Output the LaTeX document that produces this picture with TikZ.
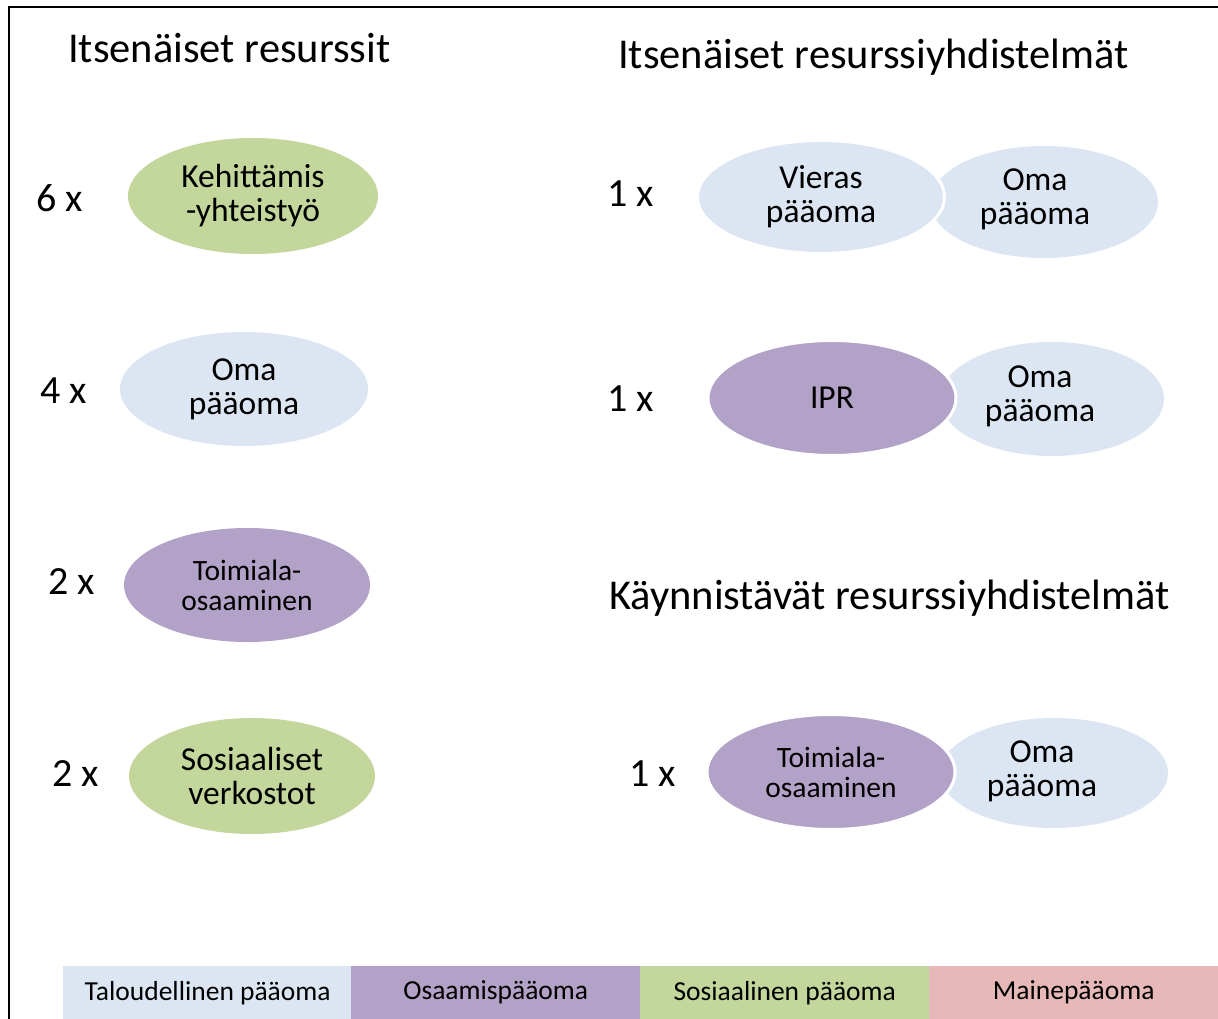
\documentclass[tikz,border=0pt]{standalone}
\usepackage{fontspec}
\setmainfont{Carlito}
\usetikzlibrary{shapes.geometric}

\definecolor{capblue}{HTML}{DCE6F2}
\definecolor{cappurple}{HTML}{B3A2C7}
\definecolor{capgreen}{HTML}{C3D69B}
\definecolor{cappink}{HTML}{E6B9B8}

\tikzset{
  res/.style={ellipse, inner sep=0pt, align=center,
    font=\fontsize{33.5}{34}\selectfont},
  front/.style={res, draw=white, line width=3pt},
  restext/.style={inner sep=0pt, align=center, font=\fontsize{33.5}{34}\selectfont},
  small/.style={font=\fontsize{29.5}{30}\selectfont},
  count/.style={font=\fontsize{40}{40}\selectfont, anchor=base west, inner sep=0pt},
  heading/.style={font=\fontsize{42.5}{42}\selectfont, anchor=base west, inner sep=0pt},
  legbox/.style={inner sep=0pt, anchor=north west, minimum height=53pt,
    minimum width=289pt, font=\fontsize{27.5}{28}\selectfont},
}

\begin{document}
\begin{tikzpicture}[x=1pt, y=-1pt]
\useasboundingbox (0,0) rectangle (1218,1019);

% frame
\draw[line width=2pt] (9,1019) -- (9,7) -- (1218,7);

% headings
\node[heading] (h1) at (68,63) {Itsenäiset resurssit};
\node[heading] (h2) at (618,69) {Itsenäiset resurssiyhdistelmät};
\node[heading] (h3) at (609,609) {Käynnistävät resurssiyhdistelmät};

% independent resources
\node[count] (c1) at (36,212) {6 x};
\node[res, fill=capgreen, minimum width=250pt, minimum height=116pt] (l1) at (253,196) {Kehittämis\\-yhteistyö};

\node[count] (c2) at (40,403) {4 x};
\node[res, fill=capblue, minimum width=248pt, minimum height=114pt] (l2) at (244,389) {Oma\\pääoma};

\node[count] (c3) at (48,594) {2 x};
\node[res, small, fill=cappurple, minimum width=246pt, minimum height=114pt] (l3) at (247,585) {Toimiala-\\osaaminen};

\node[count] (c4) at (52,786) {2 x};
\node[res, fill=capgreen, minimum width=246pt, minimum height=116pt] (l4) at (252,776) {Sosiaaliset\\verkostot};

% independent combinations
\node[count] (c5) at (607,207) {1 x};
\node[res, fill=capblue, minimum width=228pt, minimum height=112pt] (r1b) at (1044,202) {};
\node[restext] (r1bt) at (1035,199) {Oma\\pääoma};
\node[front, fill=capblue, minimum width=247pt, minimum height=113pt] (r1a) at (821,197) {Vieras\\pääoma};

\node[count] (c6) at (607,411) {1 x};
\node[res, fill=capblue, minimum width=224pt, minimum height=114pt] (r2b) at (1052,399) {};
\node[restext] (r2bt) at (1040,396) {Oma\\pääoma};
\node[front, fill=cappurple, minimum width=248pt, minimum height=115pt] (r2a) at (832,398) {IPR};

% initiating combinations
\node[count] (c7) at (629,786) {1 x};
\node[res, fill=capblue, minimum width=228pt, minimum height=110pt] (r3b) at (1054,773) {};
\node[restext] (r3bt) at (1042,771) {Oma\\pääoma};
\node[front, small, fill=cappurple, minimum width=248pt, minimum height=115pt] (r3a) at (831,772) {Toimiala-\\osaaminen};

% legend
\node[legbox, fill=capblue]   (k1) at (63,966)  {Taloudellinen pääoma};
\node[legbox, fill=cappurple] (k2) at (351,966) {Osaamispääoma};
\node[legbox, fill=capgreen]  (k3) at (640,966) {Sosiaalinen pääoma};
\node[legbox, fill=cappink]   (k4) at (929,966) {Mainepääoma};
\end{tikzpicture}
\end{document}
